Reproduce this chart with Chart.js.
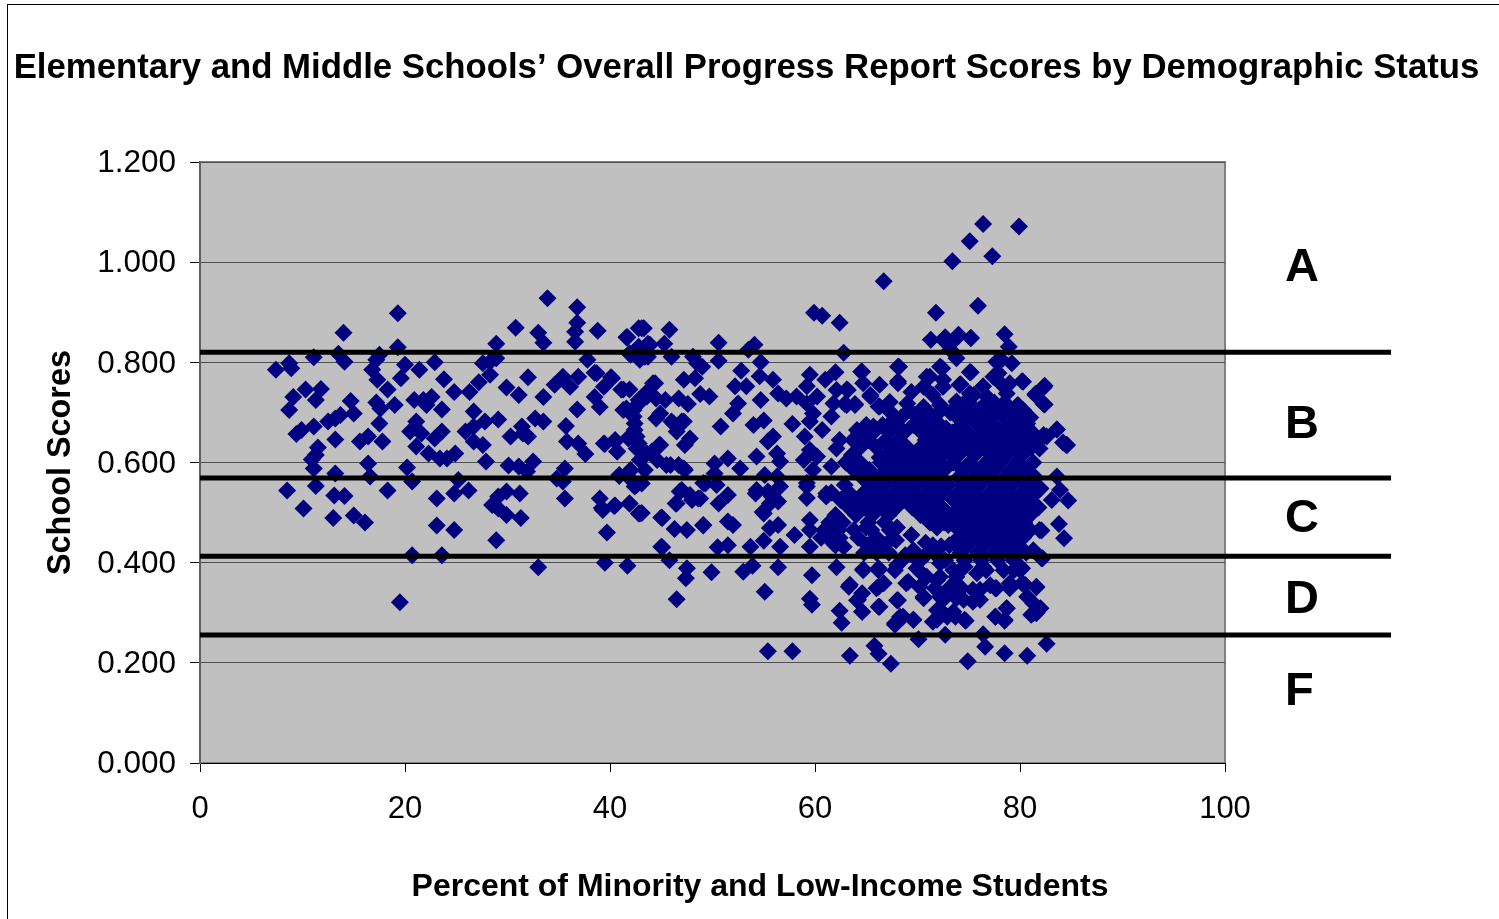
<!DOCTYPE html>
<html><head><meta charset="utf-8">
<style>
html,body{margin:0;padding:0;background:#fff;width:1499px;height:919px;overflow:hidden}
#frame{position:absolute;left:7px;top:4px;width:1492px;height:915px;border-left:1px solid #000;border-top:1px solid #000;box-sizing:border-box}
#wrap{position:absolute;left:0;top:0;width:1499px;height:919px}
canvas{display:block}
</style>
<script src="https://cdn.jsdelivr.net/npm/chart.js@4"></script>
</head><body><div id="frame"></div><div id="wrap"><canvas id="c" width="1499" height="919"></canvas></div>
<script>
const chartTitle="Elementary and Middle Schools\u2019 Overall Progress Report Scores by Demographic Status";
const xTitle="Percent of Minority and Low-Income Students";
const yTitle="School Scores";
const cutoffs=[0.820,0.569,0.4127,0.2556];
const cutoffEndX=116.2;
const gradeLabels=["A","B","C","D","F"];
const gradeLabelY=[0.988,0.675,0.487,0.325,0.142];
const gradeLabelX=105.85;
const leftSchools=[[7.4,.785],[8.7,.798],[8.9,.788],[11.1,.81],[13.5,.817],[14,.859],[14.1,.801],[19.3,.898],[19.3,.83],[17.5,.815],[17.2,.805],[16.8,.785],[17.3,.765],[18.3,.746],[20,.795],[19.6,.768],[21.4,.785],[22.9,.8],[10.3,.746],[11.8,.747],[11.3,.725],[9.1,.731],[8.7,.705],[14.7,.723],[15,.698],[13.7,.695],[12.5,.682],[13.2,.688],[11.1,.672],[9.9,.665],[9.4,.657],[13.2,.646],[15.6,.642],[16.4,.652],[17.8,.642],[11.5,.63],[11.3,.615],[10.9,.606],[11.1,.588],[16.4,.598],[16.6,.572],[20.2,.59],[20.7,.562],[13.2,.578],[11.3,.553],[8.5,.544],[10.1,.508],[13,.489],[13.1,.534],[14.1,.533],[15,.494],[16.1,.48],[18.3,.544],[23.1,.528],[23.1,.474],[24.8,.465],[28.9,.445],[20.7,.415],[23.6,.415],[33,.391],[39.5,.4],[41.7,.394],[19.5,.321],[17.2,.72],[17.6,.708],[19,.715],[17.5,.678],[21.1,.682],[20.5,.662],[21.6,.658],[21.1,.632],[22.3,.618],[21.8,.725],[22.6,.731],[20.9,.725],[22.1,.715],[23.6,.706],[23.8,.766],[24.8,.741],[26.3,.741],[27.2,.76],[28.3,.775],[28.3,.801],[28.9,.837],[27.6,.798],[28.9,.808],[29.9,.75],[31.1,.735],[32,.77],[30.8,.869],[33,.859],[33.5,.839],[33.9,.928],[36.8,.91],[36.8,.879],[36.6,.861],[36.6,.841],[38.8,.863],[41.7,.85],[42.8,.868],[37.8,.805],[38.5,.779],[40.1,.77],[39.4,.751],[38.5,.731],[39,.711],[41.3,.746],[41.9,.746],[33.5,.731],[34.6,.755],[35.4,.771],[36.1,.751],[36.9,.771],[36.8,.706],[35.7,.673],[35.8,.642],[36.9,.638],[37.6,.617],[39.4,.638],[40.5,.645],[40.7,.622],[26.7,.702],[27.8,.682],[29.1,.686],[25.9,.662],[26.7,.672],[26.7,.642],[27.6,.635],[27.9,.602],[23.6,.662],[22.9,.648],[23.4,.608],[24.1,.608],[24.9,.618],[32.7,.688],[33.5,.682],[31.4,.672],[30.3,.652],[31.5,.658],[32,.652],[30.1,.594],[31.1,.592],[31.9,.582],[32.5,.602],[25.2,.565],[26.2,.544],[24.8,.538],[35.6,.588],[34.8,.568],[35.4,.562],[35.6,.528],[39,.528],[39.3,.505],[40.5,.514],[41.9,.518],[42.8,.498],[39.7,.46],[31.2,.538],[29.9,.542],[29.1,.532],[28.5,.515],[29.1,.508],[29.9,.495],[31.3,.489],[40.9,.575],[41.9,.582],[42.4,.552],[41.3,.705],[42.3,.692],[42.8,.718],[41.9,.652],[42.8,.638],[42.9,.605],[42.6,.825],[41.9,.818]];
const rightSchools=[[43.3,.868],[45.8,.865],[43.7,.837],[45.3,.837],[43.4,.811],[46,.811],[48.1,.811],[50.6,.839],[50.6,.803],[49,.791],[48.3,.768],[47.2,.765],[53.5,.825],[54.1,.835],[54.7,.8],[52.8,.783],[54.6,.772],[55.9,.765],[52.2,.752],[53.3,.752],[56.4,.738],[57.2,.728],[58.2,.732],[59.2,.752],[59.5,.775],[61,.765],[62,.78],[62.1,.745],[63.2,.745],[64.6,.781],[65.4,.732],[66.3,.712],[68.1,.791],[68.1,.758],[62.8,.819],[48.8,.737],[49.7,.732],[47.6,.717],[46.7,.728],[45.4,.725],[44.2,.758],[43.6,.732],[44.9,.698],[46.2,.678],[47.2,.682],[46.5,.662],[47.8,.648],[47.3,.635],[52.5,.718],[52,.698],[54.7,.725],[50.8,.672],[54,.675],[55,.684],[57.8,.677],[55.9,.652],[55.4,.642],[56.3,.618],[56.6,.602],[54.3,.612],[51.5,.608],[50.2,.598],[52.7,.588],[50.2,.578],[49.1,.559],[50.4,.555],[46.7,.595],[45.9,.595],[44.9,.635],[43.6,.618],[47.2,.588],[59.8,.698],[61.6,.692],[60.7,.665],[59,.652],[59.5,.625],[58.9,.605],[60.2,.612],[61.6,.592],[62.4,.645],[62.1,.628],[63.1,.715],[63.9,.715],[61.8,.718],[60.2,.732],[59.2,.718],[59.5,.682],[55.1,.575],[54.2,.538],[56.3,.572],[56.6,.552],[55.4,.542],[56.4,.522],[51.5,.535],[50.6,.518],[48.8,.528],[47,.545],[48,.525],[46.5,.518],[43.1,.558],[43.1,.499],[45,.49],[46.3,.467],[47.5,.465],[49.1,.474],[51.5,.482],[52,.475],[55.6,.469],[56.4,.475],[54.9,.501],[58,.455],[59.5,.485],[59.5,.465],[55,.444],[53.7,.432],[51.5,.435],[50.5,.431],[56.6,.432],[59.5,.432],[45,.432],[45.8,.405],[47.5,.389],[47.4,.369],[49.9,.381],[53,.382],[53.9,.394],[56.4,.391],[59.7,.375],[46.5,.327],[55.1,.342],[59.5,.328],[59.7,.316],[62.4,.304],[62.6,.28],[62.1,.391],[55.4,.223],[57.8,.223],[63.4,.214],[65.8,.234],[66.2,.218],[67.4,.198],[74.9,.203],[76.6,.232],[78.5,.219],[80.7,.214],[82.6,.238],[70.1,.247],[72.7,.256],[76.4,.257],[66.7,.962],[76.4,1.076],[79.9,1.071],[75.1,1.042],[77.3,1.012],[73.4,1.002],[59.9,.899],[60.7,.893],[62.4,.879],[71.8,.899],[75.9,.913],[71.3,.845],[72.7,.85],[74,.855],[75.2,.849],[78.5,.856],[78.9,.831],[73.2,.825],[73.8,.808],[72.4,.788],[70.9,.771],[75.2,.78],[74.2,.756],[78.2,.805],[79.2,.798],[80.2,.762],[82.4,.753],[81.5,.737],[82.4,.716],[79.7,.713],[77.4,.771],[76.4,.752],[83.6,.666],[84.6,.635],[84.2,.64],[82.3,.655],[81.8,.642],[80.7,.678],[81,.595],[83.6,.572],[83.9,.545],[84.7,.524],[83.1,.525],[82,.548],[83.8,.477],[84.3,.449],[82.1,.464],[81.3,.425],[82.2,.409],[81.6,.351],[80.5,.356],[80,.385],[79,.349],[77.6,.349],[81.3,.319],[81.6,.299],[81.1,.296],[78.7,.309],[78.5,.286],[77.6,.292],[74.6,.286],[73.5,.302],[71.5,.282],[69.6,.286],[68.3,.292],[67.8,.276],[68,.325],[66.2,.312],[64.6,.302],[64.1,.325],[64.6,.339],[63.4,.356],[66,.349],[66.7,.359],[70.6,.332],[68.9,.359],[70.2,.352],[64.7,.387],[66.2,.389],[68,.395],[69.9,.389],[72.2,.372],[73.5,.385],[74.6,.392],[75.8,.379],[73.2,.346],[74.3,.349],[72.2,.332],[73.8,.329],[75.4,.322],[71.9,.305],[76.7,.385],[78.4,.385],[70.9,.372],[71.7,.349],[76.1,.346],[72.9,.292],[59.2,.559],[59.8,.585],[59.2,.529],[61.1,.538],[62.1,.492],[61.1,.459],[61.8,.439],[62.8,.432]];
const midSchools=[[41.6,.85],[43.1,.868],[42.8,.831],[43.9,.835],[42,.815],[42.9,.805],[43.7,.811],[48.5,.798],[38.7,.778],[40.2,.768],[41.1,.746],[44.4,.758],[43.6,.741],[42.8,.725],[41.6,.708],[42.3,.705],[44.5,.728],[44.5,.688],[46,.682],[47,.682],[42.4,.665],[42.4,.678],[41.8,.648],[40.5,.642],[39.5,.637],[40.7,.622],[42.6,.652],[42.6,.628],[44.1,.622],[44.8,.635],[44.6,.605],[45.5,.595],[47.3,.585],[43.4,.585],[42,.585],[40.9,.573],[42.6,.555],[42.1,.565],[46.8,.542],[47.8,.535],[48.6,.528],[46.4,.518],[49.3,.558],[54.3,.545],[55.8,.532],[55,.498],[55.6,.518],[39.2,.509],[40.4,.513],[41.9,.518],[42.9,.498],[45.1,.489],[49.1,.475],[45.1,.431],[61.1,.532],[59.2,.552]];
const denseTop=[[72.5,.845],[73.8,.848],[75.2,.848],[77.7,.801],[64.5,.781],[68.2,.791],[72.2,.791],[75.1,.78],[71.2,.771],[72.5,.765],[77.9,.778],[74.1,.755],[66.3,.755],[64.7,.758],[63.1,.746],[68.1,.762],[69.4,.741],[70.6,.751],[72.5,.751],[65.4,.735],[63.9,.717],[62.9,.717],[66.2,.712],[67.3,.721],[67.3,.702],[80.3,.761],[79,.758],[78.1,.758],[82.3,.75],[81.5,.735],[82.3,.717],[78.7,.738],[79.8,.715],[76.8,.731],[75.5,.735],[71.5,.735],[69,.718],[70.6,.711],[72.2,.715],[73.8,.722],[64.1,.665],[65.7,.672],[67.3,.678],[80.6,.675],[83.6,.666],[84.5,.635],[81.9,.628],[82.6,.652],[81,.658],[79.7,.688],[77.5,.72],[74.6,.72],[81.9,.465]];
const denseLow=[[63.3,.352],[64.2,.326],[64.6,.302],[66.2,.352],[66.3,.312],[64.7,.385],[66.2,.385],[68.1,.325],[68.6,.292],[67.8,.279],[69.6,.286],[70.6,.329],[71.9,.286],[72.5,.326],[73.7,.292],[74.7,.284],[72.2,.306],[73.2,.352],[74.5,.326],[76.1,.326],[75.4,.346],[73.8,.372],[72.2,.399],[74.5,.392],[76.4,.392],[77.1,.355],[79,.359],[77.7,.349],[81.6,.352],[80.7,.332],[78.7,.309],[77.6,.292],[78.5,.284],[81.3,.299],[82,.309],[80.2,.359],[79.4,.385],[67.8,.385],[69.1,.362],[70.4,.379],[71.9,.365],[80.2,.389],[82.1,.409]];
const denseFill=[[68,.47],[67.9,.445],[69.4,.455],[70.8,.44],[72.3,.433],[73.5,.44],[69.6,.425],[71,.42],[68.8,.415],[66,.42],[70.3,.405],[71.9,.47],[73,.475],[69.6,.612],[71.7,.608],[73.3,.618],[72.6,.585],[74,.57],[73.2,.7],[75,.72],[76.5,.715],[78.5,.72],[75.1,.738],[71,.68],[72.8,.668],[71.2,.645],[73,.64],[70,.59],[71,.56],[73,.555],[69,.54],[66,.45],[65,.47],[69.8,.51],[71,.525],[67.4,.51],[68.8,.575],[69.9,.62],[66.3,.61],[68,.635],[74.8,.695]];
const denseRows=[
[.705,[69.2,70.8,72.3,74.6,76,77.6,79.1,80.3]],
[.690,[68.4,70,71.6,73.9,75.2,76.8,78.4,80,81]],
[.675,[65,66.6,68,69.6,71.2,72.2,74.3,75.9,77.4,79,80.4]],
[.660,[64.3,65.7,67.2,68.7,70.4,71.9,73.4,74.9,76.6,78.1,79.6,81.2]],
[.645,[63.7,65.2,66.9,68.2,70.8,72.4,74.1,75.7,77.2,78.8,80.3,81.9]],
[.630,[64.4,66,67.5,69,70.3,71.8,73.3,74.9,76.5,78,79.5,81.1]],
[.615,[63.6,67,68.3,70.9,72.5,74,75.6,77.2,78.7,80.2]],
[.600,[63,64.4,66.4,67.8,69.2,70.5,72,73.5,75.1,76.7,78.1,79.7,81.3]],
[.585,[63.8,65.3,66.9,68.4,70,71.4,74.4,76,77.5,79.1,80.6]],
[.570,[64.6,66.2,67.7,69.2,70.7,72.3,75.4,76.9,78.5,80,81.5]],
[.555,[62.9,65.4,66.9,68.4,70,71.6,74.6,76.1,77.7,79.2,80.7]],
[.540,[61.6,63.3,64.8,66.3,67.9,69.5,71,72.5,74,75.5,77.1,78.6,80.2,81.6]],
[.525,[62.5,64.1,65.6,67.1,68.6,70.4,71.8,73.5,74.9,76.4,78,79.5,81]],
[.510,[63.3,64.9,66.4,67.9,69.5,70.9,72.4,74.1,75.7,77.3,78.8,80.3,81.8]],
[.495,[62,64,65.6,67.2,70.3,71.7,73.3,74.8,76.4,78,79.5,81]],
[.480,[61.4,62.7,65.2,66.8,71.2,72.6,74.1,75.6,77.2,78.8,80.4]],
[.470,[73.8]],
[.465,[60.9,62.3,63.8,65.5,67.3,74.9,76.4,78,79.5,81]],
[.450,[60.6,62.4,64.2,66,67.6,74.1,75.7,77.3,78.8,80.3]],
[.435,[62,65.1,66.8,71.5,73.1,74.9,76.5,78.1,79.7]],
[.420,[64.8,67.2,71.6,74.2,75.9,77.5,79,80.6]],
[.405,[68.5,70,72.7,74.6,76.2,77.8,79.4]]
];
const toPoint=p=>({x:p[0],y:p[1]});
const schoolPoints=[leftSchools,rightSchools,midSchools,denseTop,denseLow,denseFill].flat().map(toPoint);
denseRows.forEach(r=>r[1].forEach(x=>schoolPoints.push({x:x,y:r[0]})));

const decor={id:'decor',
 beforeDraw(ch){const a=ch.chartArea,c=ch.ctx;c.save();c.fillStyle='#C0C0C0';c.fillRect(a.left,a.top,a.width,a.height);
  c.strokeStyle='#808080';c.lineWidth=2;c.strokeRect(a.left,a.top,a.width,a.height);c.restore();},
 afterDraw(ch){const c=ch.ctx,xs=ch.scales.x,ys=ch.scales.y;c.save();c.fillStyle='#000';
  c.textBaseline='middle';c.textAlign='center';c.font='bold 32px "Liberation Sans"';
  c.fillText(xTitle,760,887);
  c.textAlign='left';c.font='bold 47px "Liberation Sans"';
  gradeLabels.forEach((t,i)=>c.fillText(t,xs.getPixelForValue(gradeLabelX),ys.getPixelForValue(gradeLabelY[i])));
  c.restore();}
};
new Chart(document.getElementById('c'),{
 type:'scatter',
 data:{datasets:[
  ...cutoffs.map(v=>({type:'line',data:[{x:0,y:v},{x:cutoffEndX,y:v}],borderColor:'#000',borderWidth:5,pointRadius:0,clip:false,order:0,fill:false,tension:0})),
  {type:'scatter',data:schoolPoints,pointStyle:'rectRot',pointRadius:9,pointHoverRadius:9,backgroundColor:'#000080',borderColor:'#000080',borderWidth:0,order:1}
 ]},
 options:{responsive:false,animation:false,events:[],
  layout:{padding:{left:0,right:6,top:0,bottom:0}},
  plugins:{legend:{display:false},tooltip:{enabled:false},
   title:{display:true,text:chartTitle,color:'#000',align:'center',font:{family:'"Liberation Sans"',size:34.75,weight:'bold',lineHeight:1.2},padding:{top:48,bottom:72.3}}},
  scales:{
   x:{type:'linear',min:0,max:100,
    afterBuildTicks(s){s.ticks=[0,20,40,60,80,100].map(v=>({value:v}));},
    afterFit(s){s.height=156;},
    border:{color:'#000',width:1},
    grid:{drawOnChartArea:false,drawTicks:true,tickLength:9,tickColor:'#000'},
    ticks:{color:'#000',padding:19,maxRotation:0,font:{family:'"Liberation Sans"',size:31}}},
   y:{type:'linear',min:0,max:1.2,
    afterBuildTicks(s){s.ticks=[0,.2,.4,.6,.8,1,1.2].map(v=>({value:v}));},
    afterFit(s){s.width=200;},
    border:{color:'#606060',width:2},
    grid:{color:'#505050',lineWidth:1,tickLength:10,tickColor:'#000'},
    title:{display:true,text:yTitle,color:'#000',font:{family:'"Liberation Sans"',size:32.4,weight:'bold',lineHeight:1.2},padding:{top:42,bottom:0}},
    ticks:{color:'#000',padding:14,labelOffset:1.5,callback:v=>Number(v).toFixed(3),font:{family:'"Liberation Sans"',size:31.5}}},
   r2:{type:'linear',position:'right',display:true,min:0,max:1,afterFit(s){s.width=268;},
    border:{display:false},grid:{display:false},ticks:{display:false}}
  }},
 plugins:[decor]
});
</script></body></html>
